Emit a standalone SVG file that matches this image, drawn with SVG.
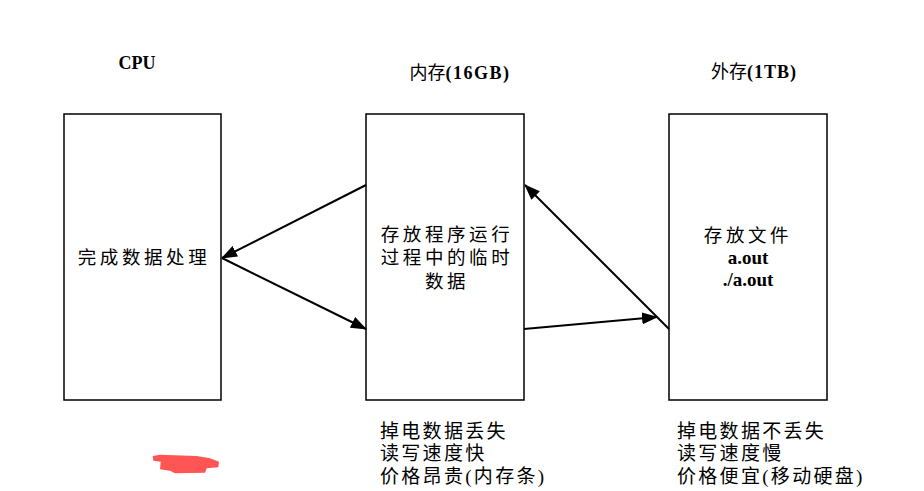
<svg xmlns="http://www.w3.org/2000/svg" width="924" height="491" viewBox="0 0 924 491">
<defs>
<style>
.box{fill:#fff;stroke:#000;stroke-width:1.5}
.cn{font-family:"Liberation Serif","Noto Sans CJK SC",serif;font-size:18.5px;fill:#000}
.cb{font-family:"Liberation Serif","Noto Sans CJK SC",serif;font-size:19px;fill:#000}
.hd{font-family:"Liberation Serif","Noto Sans CJK SC",serif;font-size:18px;font-weight:bold;fill:#000}
.lat{font-family:"Liberation Serif",serif;font-weight:bold;font-size:19px;fill:#000}
.conn{stroke:#000;stroke-width:2;fill:none}
</style>
<marker id="arr" viewBox="0 0 16 12" refX="15" refY="6" markerWidth="16" markerHeight="12" markerUnits="userSpaceOnUse" orient="auto">
<path d="M0,0 L16,6 L0,12 z" fill="#000"/>
</marker>
</defs>
<rect width="924" height="491" fill="#fff"/>
<g id="cpu">
<text class="hd" x="137" y="69" text-anchor="middle">CPU</text>
<rect class="box" x="64" y="114" width="157" height="286"/>
<text class="cn" x="144" y="264" text-anchor="middle" letter-spacing="3.6">完成数据处理</text>
</g>
<g id="memory">
<text class="hd" x="460" y="79" text-anchor="middle"><tspan font-weight="normal">内存</tspan><tspan letter-spacing="1.5">(16GB)</tspan></text>
<rect class="box" x="366" y="114" width="158" height="286"/>
<text class="cn" x="447" y="241" text-anchor="middle" letter-spacing="3.6">存放程序运行</text>
<text class="cn" x="447" y="264" text-anchor="middle" letter-spacing="3.6">过程中的临时</text>
<text class="cn" x="447" y="288" text-anchor="middle" letter-spacing="3.6">数据</text>
<text class="cb" x="380" y="438" letter-spacing="2.3">掉电数据丢失</text>
<text class="cb" x="380" y="460" letter-spacing="2.3">读写速度快</text>
<text class="cb" x="380" y="483" letter-spacing="2.3">价格昂贵(内存条)</text>
</g>
<g id="storage">
<text class="hd" x="754" y="78" text-anchor="middle"><tspan font-weight="normal">外存</tspan><tspan letter-spacing="1">(1TB)</tspan></text>
<rect class="box" x="669" y="114" width="158" height="286"/>
<text class="cn" x="748" y="242" text-anchor="middle" letter-spacing="3.6">存放文件</text>
<text class="lat" x="748" y="264" text-anchor="middle">a.out</text>
<text class="lat" x="748" y="286" text-anchor="middle">./a.out</text>
<text class="cb" x="677" y="438" letter-spacing="2.3">掉电数据不丢失</text>
<text class="cb" x="677" y="460" letter-spacing="2.3">读写速度慢</text>
<text class="cb" x="677" y="483" letter-spacing="2.3">价格便宜(移动硬盘)</text>
</g>
<g id="connectors">
<line class="conn" x1="366" y1="185" x2="222" y2="258" marker-end="url(#arr)"/>
<line class="conn" x1="222" y1="258" x2="366" y2="329" marker-end="url(#arr)"/>
<line class="conn" x1="524" y1="329" x2="657" y2="317" marker-end="url(#arr)"/>
<line class="conn" x1="669" y1="329" x2="525" y2="185" marker-end="url(#arr)"/>
</g>
<path d="M152.7,456 L160,454.7 L196.7,456 L210,458.3 L219,461.7 L218.3,467.3 L206.7,468.3 L205,472.7 L175,473.3 L170,470.7 L160,469.3 L160.7,461.7 L153.3,460.7 Z" fill="#ff5555"/>
</svg>
